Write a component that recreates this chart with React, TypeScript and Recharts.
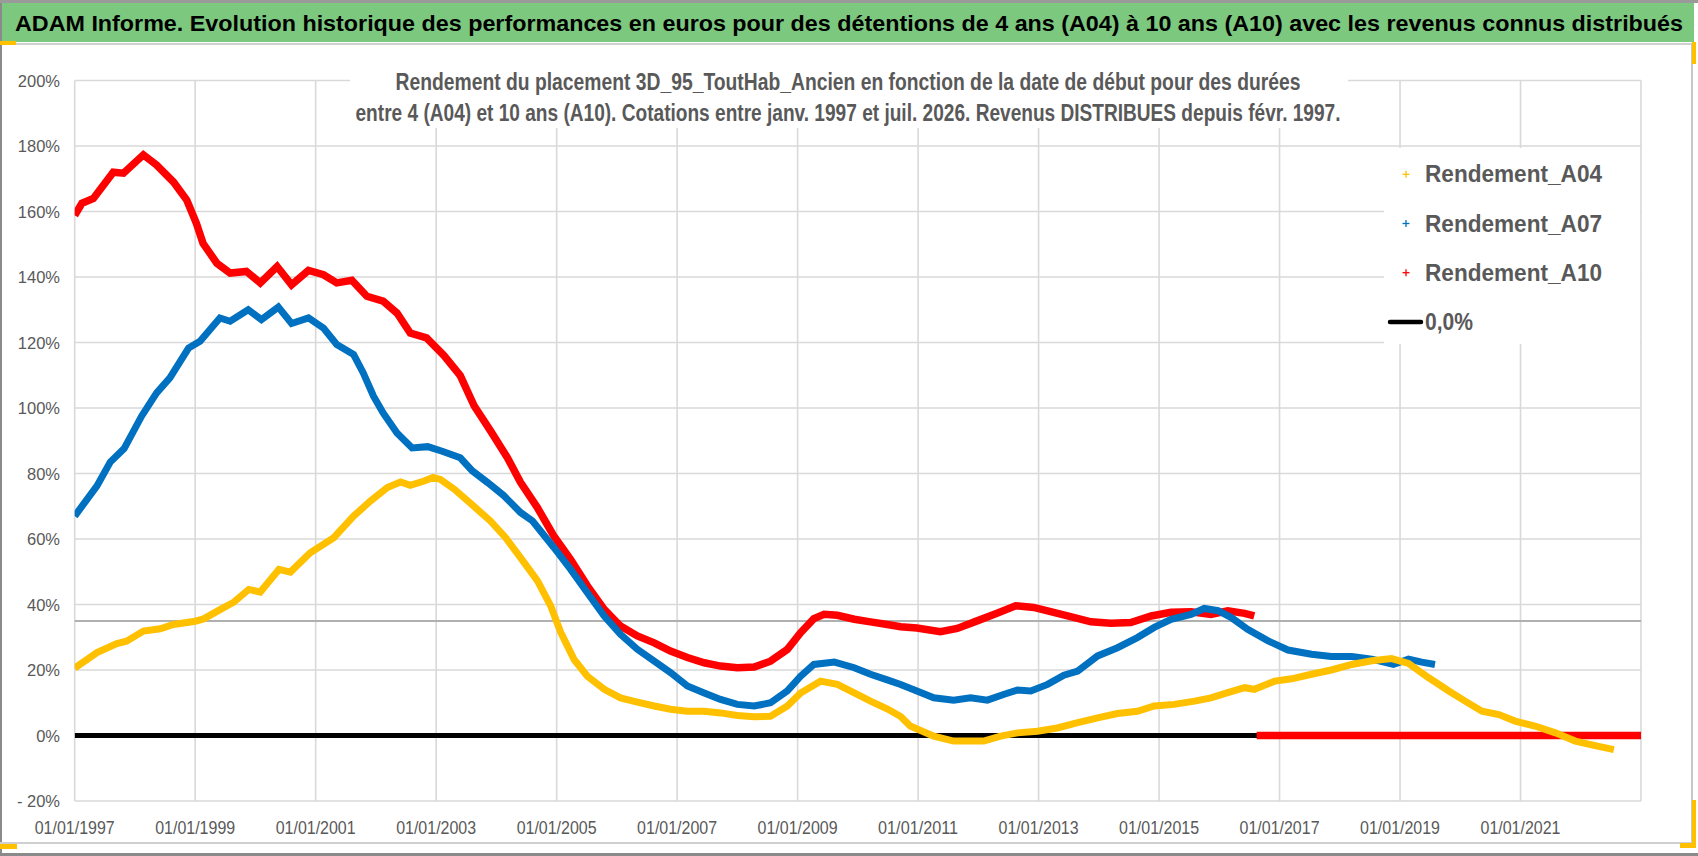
import { LineChart, Line, XAxis, YAxis, CartesianGrid, ReferenceLine } from "recharts";

// [year as decimal, return in %]
const A04: [number, number][] = [
  [1997.0, 20.6], [1997.37, 25.3], [1997.7, 28.1], [1997.86, 28.8], [1998.14, 31.9],
  [1998.42, 32.6], [1998.64, 33.9], [1999.0, 34.9], [1999.14, 35.6], [1999.42, 38.5],
  [1999.64, 40.7], [1999.89, 44.6], [2000.08, 43.8], [2000.39, 50.7], [2000.58, 49.9],
  [2000.91, 55.8], [2001.3, 60.4], [2001.63, 67], [2001.91, 71.6], [2002.19, 75.7],
  [2002.41, 77.4], [2002.57, 76.4], [2002.8, 77.7], [2002.95, 78.8], [2003.07, 78.2],
  [2003.3, 75.2], [2003.6, 70.4], [2003.9, 65.5], [2004.15, 60.5], [2004.4, 54.3],
  [2004.68, 47.3], [2004.9, 39.6], [2005.07, 31.4], [2005.29, 23.2], [2005.51, 18.1],
  [2005.79, 14.1], [2006.06, 11.5], [2006.34, 10.2], [2006.62, 9], [2006.89, 8],
  [2007.17, 7.4], [2007.45, 7.4], [2007.72, 6.9], [2008.0, 6.1], [2008.28, 5.7],
  [2008.55, 5.9], [2008.83, 9], [2009.05, 13], [2009.38, 16.6], [2009.66, 15.6],
  [2009.94, 13], [2010.21, 10.5], [2010.5, 8], [2010.71, 5.8], [2010.87, 2.9],
  [2011.26, -0.2], [2011.59, -1.7], [2012.09, -1.7], [2012.37, -0.2], [2012.65, 0.8],
  [2012.98, 1.3], [2013.31, 2.3], [2013.65, 3.9], [2013.98, 5.4], [2014.31, 6.7],
  [2014.64, 7.4], [2014.92, 9], [2015.25, 9.5], [2015.59, 10.5], [2015.86, 11.5],
  [2016.14, 13.1], [2016.42, 14.6], [2016.58, 14.1], [2016.92, 16.6], [2017.2, 17.3],
  [2017.53, 18.7], [2017.86, 20], [2018.2, 21.7], [2018.53, 22.8], [2018.86, 23.5],
  [2019.14, 22], [2019.47, 17.7], [2019.81, 13.6], [2020.08, 10.5], [2020.36, 7.4],
  [2020.64, 6.4], [2020.91, 4.4], [2021.24, 2.9], [2021.58, 0.8], [2021.91, -1.7],
  [2022.24, -3.1], [2022.55, -4.3],
];

const A07: [number, number][] = [
  [1997.0, 67], [1997.37, 76.2], [1997.59, 83.5], [1997.82, 87.6], [1998.11, 97.5],
  [1998.36, 104.6], [1998.58, 109.2], [1998.89, 118.3], [1999.08, 120.4], [1999.41, 127.5],
  [1999.58, 126.5], [1999.88, 130], [2000.1, 127], [2000.38, 130.8], [2000.6, 125.8],
  [2000.88, 127.5], [2001.13, 124.4], [2001.35, 119.4], [2001.63, 116.3], [2001.79, 110.7],
  [2001.96, 103.6], [2002.12, 98.5], [2002.35, 92.4], [2002.6, 87.8], [2002.86, 88.2],
  [2003.1, 86.8], [2003.4, 84.8], [2003.6, 80.8], [2003.85, 77.3], [2004.12, 73.3],
  [2004.4, 68.1], [2004.6, 65.5], [2004.95, 57.5], [2005.23, 50.8], [2005.51, 43.6],
  [2005.79, 36.5], [2006.06, 30.9], [2006.34, 26.3], [2006.62, 22.7], [2006.89, 19.2],
  [2007.17, 15.1], [2007.45, 13], [2007.72, 11], [2008.0, 9.5], [2008.28, 9],
  [2008.55, 10], [2008.83, 13.6], [2009.05, 18.1], [2009.27, 21.7], [2009.61, 22.4],
  [2009.94, 20.7], [2010.21, 18.7], [2010.5, 16.9], [2010.71, 15.6], [2010.98, 13.6],
  [2011.26, 11.5], [2011.59, 10.8], [2011.87, 11.5], [2012.15, 10.8], [2012.43, 12.6],
  [2012.65, 13.9], [2012.87, 13.6], [2013.15, 15.6], [2013.42, 18.4], [2013.65, 19.7],
  [2013.98, 24.3], [2014.31, 26.8], [2014.64, 29.9], [2014.92, 33], [2015.2, 35.5],
  [2015.53, 37], [2015.75, 38.8], [2015.98, 38.1], [2016.2, 36], [2016.47, 32.4],
  [2016.81, 28.9], [2017.14, 26.1], [2017.53, 24.8], [2017.86, 24.1], [2018.2, 24.1],
  [2018.53, 23.3], [2018.89, 21.7], [2019.14, 23.3], [2019.36, 22.4], [2019.58, 21.7],
];

const A10: [number, number][] = [
  [1997.0, 158.8], [1997.12, 162.5], [1997.31, 164], [1997.64, 172], [1997.81, 171.7],
  [1998.14, 177.3], [1998.36, 174.2], [1998.64, 169], [1998.86, 163.5], [1999.02, 156.4],
  [1999.13, 150.3], [1999.36, 144.2], [1999.58, 141.2], [1999.85, 141.7], [2000.08, 138.2],
  [2000.36, 143.2], [2000.6, 137.6], [2000.88, 142], [2001.13, 140.7], [2001.35, 138.2],
  [2001.6, 139], [2001.85, 134.1], [2002.12, 132.6], [2002.35, 129], [2002.57, 122.9],
  [2002.84, 121.4], [2003.13, 116], [2003.4, 109.9], [2003.63, 100.7], [2003.9, 93.1],
  [2004.18, 84.9], [2004.4, 77.3], [2004.68, 69.6], [2004.95, 61], [2005.23, 53.8],
  [2005.51, 45.7], [2005.79, 38.5], [2006.06, 33.4], [2006.34, 30.4], [2006.62, 28.3],
  [2006.89, 25.8], [2007.17, 23.8], [2007.45, 22.2], [2007.72, 21.2], [2008.0, 20.7],
  [2008.28, 20.9], [2008.55, 22.7], [2008.83, 26.3], [2009.05, 31.4], [2009.27, 35.7],
  [2009.44, 37], [2009.66, 36.7], [2009.94, 35.5], [2010.21, 34.7], [2010.49, 33.9],
  [2010.71, 33.2], [2010.98, 32.8], [2011.37, 31.7], [2011.65, 32.7], [2011.98, 35],
  [2012.31, 37.3], [2012.62, 39.6], [2012.92, 39.1], [2013.2, 37.8], [2013.53, 36.3],
  [2013.87, 34.7], [2014.2, 34.3], [2014.53, 34.5], [2014.87, 36.5], [2015.2, 37.6],
  [2015.53, 37.8], [2015.86, 37], [2016.14, 38.1], [2016.42, 37.3], [2016.58, 36.5],
];
// after its last known value A10 is plotted at 0 until the end
const A10_ZERO: [number, number][] = [[2016.62, 0], [2023, 0]];
const ZERO_LINE: [number, number][] = [[1997, 0], [2023, 0]];

const YEAR_TICKS = [1997, 1999, 2001, 2003, 2005, 2007, 2009, 2011, 2013, 2015, 2017, 2019, 2021];
const PCT_TICKS = [-20, 0, 20, 40, 60, 80, 100, 120, 140, 160, 180, 200];
const GREY_LEVEL = 35;

const TITLE =
  "ADAM Informe. Evolution historique des performances en euros pour des détentions de 4 ans (A04) à 10 ans (A10) avec les revenus connus distribués";
const SUBTITLE = [
  "Rendement du placement 3D_95_ToutHab_Ancien en fonction de la date de début pour des durées",
  "entre 4 (A04) et 10 ans (A10).  Cotations entre janv. 1997 et juil. 2026. Revenus DISTRIBUES depuis févr. 1997.",
];
const LEGEND = [
  { name: "Rendement_A04", color: "#FFC000", kind: "plus" },
  { name: "Rendement_A07", color: "#0070C0", kind: "plus" },
  { name: "Rendement_A10", color: "#FF0000", kind: "plus" },
  { name: "0,0%", color: "#000000", kind: "line" },
];

const W = 1698;
const H = 856;
const FONT = "'Liberation Sans', Arial, sans-serif";
const GREY_TEXT = "#595959";

const toRows = (pts: [number, number][]) => pts.map(([t, v]) => ({ t, v }));
const a10Rows = [...toRows(A10), { t: 2016.6, v: null }, ...toRows(A10_ZERO)];

function YTick(props: any) {
  const v = props.payload.value;
  const label = v < 0 ? `- ${Math.abs(v)}%` : `${v}%`;
  return (
    <text x={60} y={props.y + 6} textAnchor="end" fontSize={16.5} fill={GREY_TEXT} fontFamily={FONT}>
      {label}
    </text>
  );
}

function XTick(props: any) {
  const y = Math.round(props.payload.value);
  return (
    <text
      x={props.x}
      y={834}
      textAnchor="middle"
      fontSize={18}
      fill={GREY_TEXT}
      fontFamily={FONT}
      textLength={80}
      lengthAdjust="spacingAndGlyphs"
    >
      {`01/01/${y}`}
    </text>
  );
}

export default function App() {
  return (
    <div style={{ position: "absolute", left: 0, top: 0, width: W, height: H, background: "#fff", overflow: "hidden" }}>
      {/* frame and title bar */}
      <svg width={W} height={H} style={{ position: "absolute", left: 0, top: 0 }}>
        <rect x={0} y={0} width={W} height={H} fill="#fff" />
        <rect x={0} y={0} width={W} height={3} fill="#9a9a9a" />
        <rect x={0} y={3} width={1694} height={39} fill="#7dc87f" />
        <rect x={0} y={43} width={1694} height={2} fill="#d0d0d0" />
        <rect x={0} y={3} width={2} height={H} fill="#8a8a8a" />
        <rect x={1691} y={43} width={2} height={805} fill="#c8c8c8" />
        <rect x={0} y={842} width={1694} height={2} fill="#d0d0d0" />
        <rect x={0} y={853} width={W} height={3} fill="#8a8a8a" />
        <rect x={0} y={41} width={16} height={4} fill="#FFC000" />
        <rect x={0} y={844} width={17} height={5} fill="#FFC000" />
        <rect x={1692} y={42} width={4} height={22} fill="#FFC000" />
        <rect x={1692} y={800} width={4} height={48} fill="#FFC000" />
        <rect x={1680} y={843} width={16} height={5} fill="#FFC000" />
        <text
          x={849}
          y={31}
          textAnchor="middle"
          fontSize={22}
          fontWeight="bold"
          fill="#000"
          fontFamily={FONT}
          textLength={1668}
          lengthAdjust="spacingAndGlyphs"
        >
          {TITLE}
        </text>
      </svg>

      <div style={{ position: "absolute", left: 0, top: 0 }}>
        <LineChart width={W} height={H} margin={{ top: 80.5, right: 57, bottom: 0, left: 0 }}>
          <CartesianGrid stroke="#d9d9d9" strokeWidth={1.6} />
          <XAxis
            dataKey="t"
            type="number"
            domain={[1997, 2023]}
            ticks={YEAR_TICKS}
            allowDataOverflow
            height={55}
            axisLine={false}
            tickLine={false}
            tick={<XTick />}
          />
          <YAxis
            type="number"
            domain={[-20, 200]}
            ticks={PCT_TICKS}
            allowDataOverflow
            width={74.7}
            axisLine={false}
            tickLine={false}
            tick={<YTick />}
          />
          <ReferenceLine y={GREY_LEVEL} stroke="#b0b0b0" strokeWidth={2} />
          <Line data={toRows(ZERO_LINE)} dataKey="v" name="0,0%" type="linear" stroke="#000" strokeWidth={5} dot={false} isAnimationActive={false} />
          <Line data={a10Rows} dataKey="v" name="Rendement_A10" type="linear" stroke="#FF0000" strokeWidth={7.5} dot={false} connectNulls={false} isAnimationActive={false} />
          <Line data={toRows(A07)} dataKey="v" name="Rendement_A07" type="linear" stroke="#0070C0" strokeWidth={7} dot={false} isAnimationActive={false} />
          <Line data={toRows(A04)} dataKey="v" name="Rendement_A04" type="linear" stroke="#FFC000" strokeWidth={7} dot={false} isAnimationActive={false} />
        </LineChart>
      </div>

      {/* chart title box and legend, drawn over the gridlines like in the original */}
      <svg width={W} height={H} style={{ position: "absolute", left: 0, top: 0, pointerEvents: "none" }}>
        <rect x={350} y={62} width={998} height={66} fill="#fff" />
        {SUBTITLE.map((line, i) => (
          <text
            key={i}
            x={848}
            y={90 + i * 31}
            textAnchor="middle"
            fontSize={23}
            fontWeight="bold"
            fill={GREY_TEXT}
            fontFamily={FONT}
            textLength={i === 0 ? 905 : 985}
            lengthAdjust="spacingAndGlyphs"
          >
            {line}
          </text>
        ))}
        <rect x={1384} y={148} width={256} height={196} fill="#fff" />
        {LEGEND.map((item, i) => {
          const base = 182.3 + i * 49.2;
          const cy = base - 8;
          return (
            <g key={item.name}>
              {item.kind === "plus" ? (
                <g stroke={item.color} strokeWidth={1.3}>
                  <line x1={1402.5} x2={1409.5} y1={cy} y2={cy} />
                  <line x1={1406} x2={1406} y1={cy - 3.5} y2={cy + 3.5} />
                </g>
              ) : (
                <line x1={1390} x2={1421} y1={cy} y2={cy} stroke={item.color} strokeWidth={4.5} strokeLinecap="round" />
              )}
              <text
                x={1425}
                y={base}
                fontSize={24}
                fontWeight="bold"
                fill={GREY_TEXT}
                fontFamily={FONT}
                textLength={item.kind === "plus" ? 177 : 48}
                lengthAdjust="spacingAndGlyphs"
              >
                {item.name}
              </text>
            </g>
          );
        })}
      </svg>
    </div>
  );
}
